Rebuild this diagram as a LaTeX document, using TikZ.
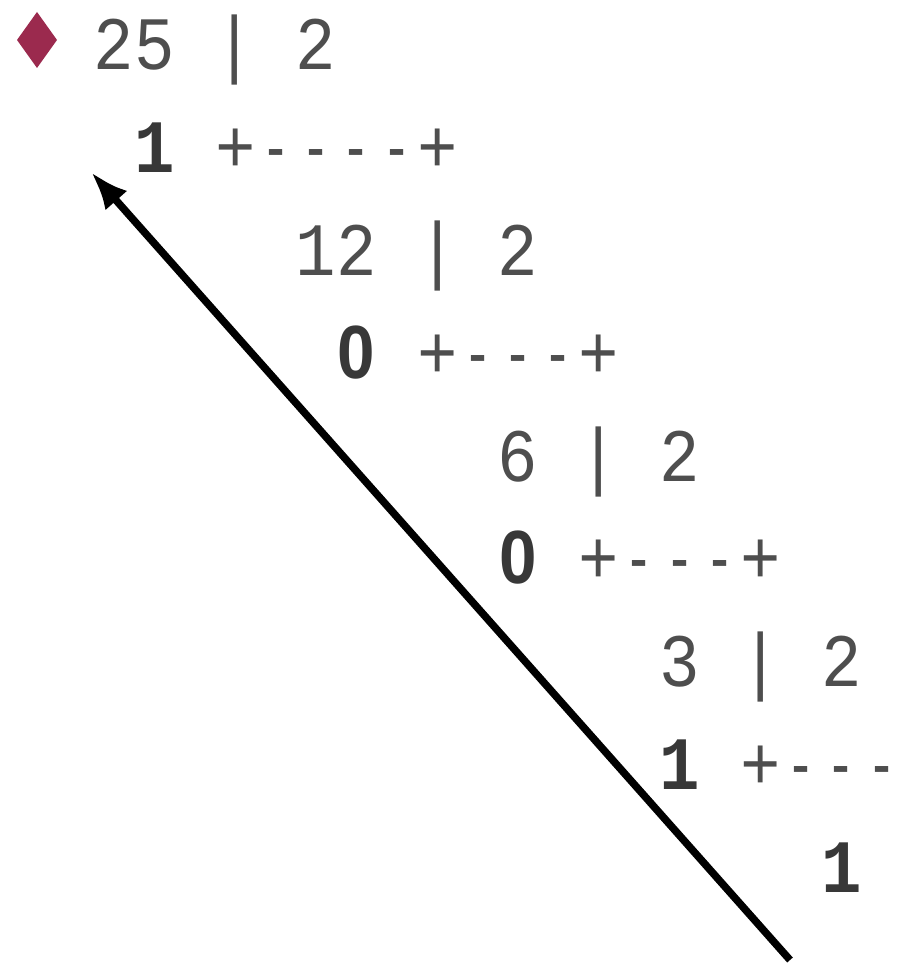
\documentclass[tikz,border=0pt]{standalone}
\usepackage{fontspec}
\usepackage{graphicx}
\setmonofont{Liberation Mono}
\newfontfamily\zerofont{Liberation Sans}
\usetikzlibrary{arrows.meta}
\definecolor{ink}{HTML}{4E4E4E}
\definecolor{inkbold}{HTML}{383838}
\definecolor{gem}{HTML}{9B2A4E}
\newcommand{\bd}[1]{{\color{inkbold}\bfseries #1}}
\newcommand{\bzero}{{\color{inkbold}\makebox[0.6em]{\zerofont\bfseries 0}}}
\newcommand{\dsh}{\makebox[0.6em]{\scalebox{0.72}[1]{-}}}
\newcommand{\tall}[1]{\scalebox{1}[1.12]{#1}}
\begin{document}
\begin{tikzpicture}[x=1pt,y=1pt,
  row/.style={anchor=base west, inner sep=0pt, outer sep=0pt, text=ink,
    font=\ttfamily\fontsize{67.33}{70}\selectfont},
  arrowline/.style={line width=7.5pt, -{Latex[length=38pt,width=29pt]}}]
\useasboundingbox (0,0) rectangle (901,-965);
% column left edge: 13 + k*40.4 ; baselines: 70 + i*102.75
\fill[gem] (37,-12) -- (57,-40) -- (37,-68) -- (17,-40) -- cycle;
\node[row] (r0) at (93.8,-70) {\tall{25 | 2}};
\node[row] (r1) at (134.2,-172.75) {\tall{\bd{1} +\dsh\dsh\dsh\dsh+}};
\node[row] (r2) at (295.8,-275.5) {\tall{12 | 2}};
\node[row] (r3) at (336.2,-378.25) {\tall{\bzero{} +\dsh\dsh\dsh+}};
\node[row] (r4) at (497.8,-481) {\tall{6 | 2}};
\node[row] (r5) at (497.8,-583.75) {\tall{\bzero{} +\dsh\dsh\dsh+}};
\node[row] (r6) at (659.4,-686.5) {\tall{3 | 2}};
\node[row] (r7) at (659.4,-789.25) {\tall{\bd{1} +\dsh\dsh\dsh}};
\node[row] (r8) at (821,-892) {\tall{\bd{1}}};
\coordinate (tail) at (790,-960);
\coordinate (head) at (91,-172);
\draw[arrowline] (tail) -- (head);
\end{tikzpicture}
\end{document}
